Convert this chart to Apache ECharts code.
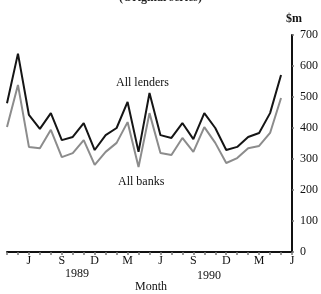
<!DOCTYPE html>
<html>
<head>
<meta charset="utf-8">
<script src="https://cdn.jsdelivr.net/npm/echarts@6/dist/echarts.min.js"></script>
<style>
  html, body { margin: 0; padding: 0; background: #fff; }
  #chart { width: 321px; height: 294px; }
</style>
</head>
<body>
<div id="chart"></div>
<script>
// months from Apr 1989 to Jun 1991 (axis runs one month past the last point)
const months = [
  'A', 'M', 'J', 'J', 'A', 'S', 'O', 'N', 'D', 'J', 'F', 'M', 'A',
  'M', 'J', 'J', 'A', 'S', 'O', 'N', 'D', 'J', 'F', 'M', 'A', 'M', 'J'
];
// $m
const allLenders = [
  480, 640, 442, 397, 448, 361, 371, 416, 329, 377, 400, 484, 323,
  513, 377, 368, 416, 364, 448, 400, 329, 339, 371, 384, 448, 571
];
const allBanks = [
  403, 539, 339, 335, 394, 306, 319, 361, 281, 323, 352, 419, 274,
  448, 319, 313, 368, 323, 403, 352, 287, 303, 335, 342, 384, 497
];
const yTicks = [0, 100, 200, 300, 400, 500, 600, 700];

const serif = '"Liberation Serif", "DejaVu Serif", serif';
const chart = echarts.init(document.getElementById('chart'));

const option = {
  animation: false,
  grid: { left: 7, right: 29, top: 35, bottom: 42 },
  xAxis: {
    type: 'category',
    data: months,
    boundaryGap: false,
    axisLine: { lineStyle: { color: '#111', width: 2 } },
    axisTick: {
      show: true,
      interval: 0,
      length: 3,
      lineStyle: { color: '#777', width: 1.5 }
    },
    axisLabel: {
      interval: (i) => (i + 1) % 3 === 0,
      margin: 3,
      color: '#111',
      fontFamily: serif,
      fontSize: 12
    },
    splitLine: { show: false }
  },
  yAxis: {
    type: 'value',
    position: 'right',
    min: yTicks[0],
    max: yTicks[yTicks.length - 1],
    interval: 100,
    axisLine: { show: true, lineStyle: { color: '#111', width: 2 } },
    axisTick: { show: true, length: 2, lineStyle: { color: '#777', width: 1.5 } },
    axisLabel: {
      margin: 8,
      color: '#111',
      fontFamily: serif,
      fontSize: 12
    },
    splitLine: { show: false }
  },
  series: [
    {
      name: 'All banks',
      type: 'line',
      data: allBanks,
      symbol: 'none',
      lineStyle: { color: '#8c8c8c', width: 2 }
    },
    {
      name: 'All lenders',
      type: 'line',
      data: allLenders,
      symbol: 'none',
      lineStyle: { color: '#151515', width: 2 }
    }
  ],
  graphic: [
    {
      type: 'text', left: 'center', top: -8,
      style: { text: '(Original series)', font: 'bold 12px ' + serif, fill: '#222' }
    },
    {
      type: 'text', left: 286, top: 13,
      style: { text: '$m', font: 'bold 12px ' + serif, fill: '#111' }
    },
    {
      type: 'text', left: 116, top: 77,
      style: { text: 'All lenders', font: '12px ' + serif, fill: '#111' }
    },
    {
      type: 'text', left: 118, top: 176,
      style: { text: 'All banks', font: '12px ' + serif, fill: '#111' }
    },
    {
      type: 'text', left: 65, top: 268,
      style: { text: '1989', font: '12px ' + serif, fill: '#111' }
    },
    {
      type: 'text', left: 197, top: 270,
      style: { text: '1990', font: '12px ' + serif, fill: '#111' }
    },
    {
      type: 'text', left: 135, top: 281,
      style: { text: 'Month', font: '12px ' + serif, fill: '#111' }
    }
  ]
};

chart.setOption(option);
</script>
</body>
</html>
